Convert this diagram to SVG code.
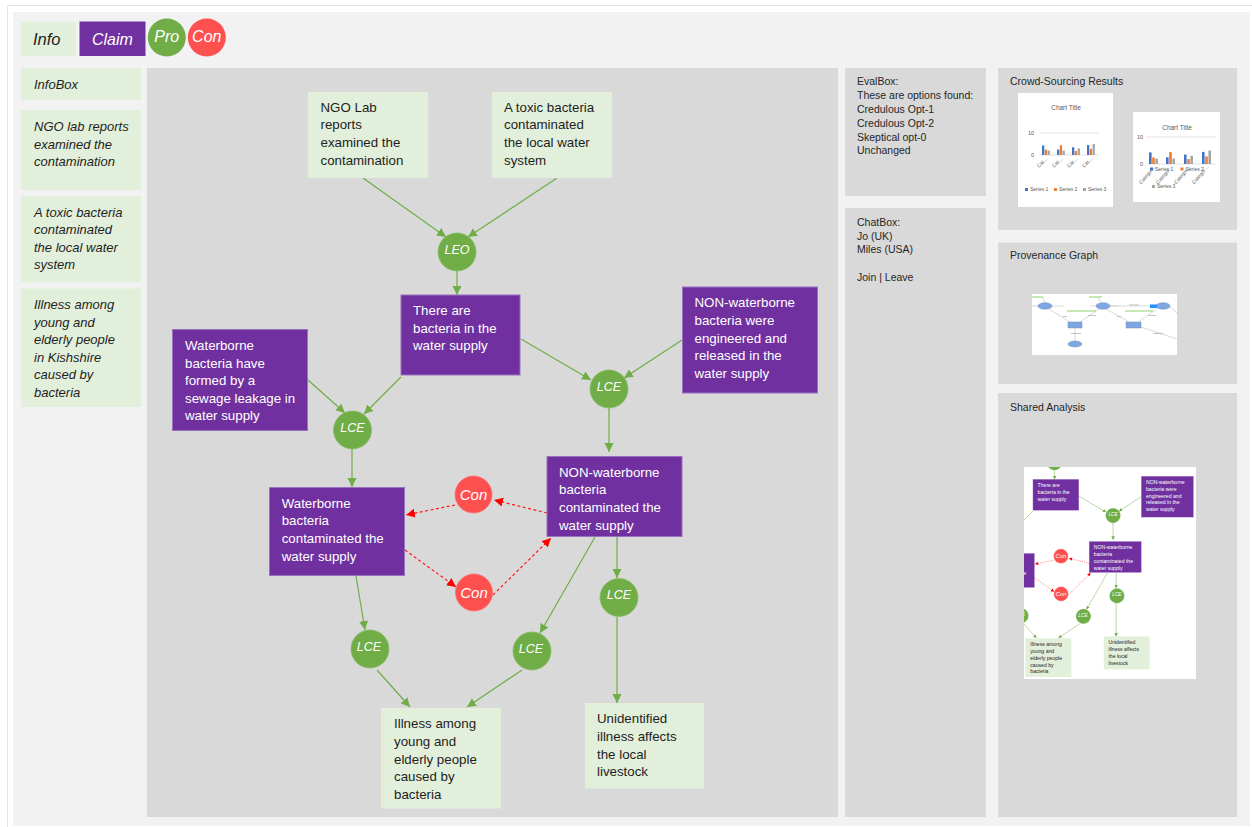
<svg xmlns="http://www.w3.org/2000/svg" xmlns:xlink="http://www.w3.org/1999/xlink" width="1252" height="827" viewBox="0 0 1252 827">
<defs>
<style>
.lg{fill:#e2efda}
.cl{fill:#7030a0;stroke:#9a70c0;stroke-width:1}
.pro{fill:#70ad47;stroke:#86bc62;stroke-width:0.8}
.con{fill:#ff5050;stroke:#ff7070;stroke-width:0.8}
.t{font-family:"Liberation Sans",Arial,sans-serif;font-size:13.3px}
.td{fill:#1e1e1e}
.tw{fill:#ffffff}
.ti{font-style:italic}
.cc{font-family:"Liberation Sans",Arial,sans-serif;font-style:italic;fill:#ffffff;text-anchor:middle}
.e{stroke:#70ad47;stroke-width:1.2;fill:none;marker-end:url(#ag)}
.er{stroke:#ff1a1a;stroke-width:1.2;stroke-dasharray:3 2.5;fill:none;marker-end:url(#ar)}
.panel{fill:#d9d9d9}
.pt{font-family:"Liberation Sans",Arial,sans-serif;font-size:10.5px;fill:#262626}
.ct{font-family:"Liberation Sans",Arial,sans-serif;fill:#595959}
.s1{fill:#4472c4}.s2{fill:#ed7d31}.s3{fill:#a5a5a5}
.grid{stroke:#d9d9d9;stroke-width:0.8}
.pe{stroke:#c8c8c8;stroke-width:0.7;fill:none}
.pn{fill:#7ea6e0;stroke:#6c8ebf;stroke-width:0.5}
.pl{fill:#8fd16a}
</style>
<marker id="ag" markerUnits="userSpaceOnUse" markerWidth="10" markerHeight="10" refX="9" refY="4.5" orient="auto"><path d="M0,0 L9,4.5 L0,9 z" fill="#70ad47"/></marker>
<marker id="ar" markerUnits="userSpaceOnUse" markerWidth="10" markerHeight="10" refX="9" refY="4.5" orient="auto"><path d="M0,0 L9,4.5 L0,9 z" fill="#ff0000"/></marker>
<clipPath id="saClip"><rect x="1024" y="467" width="172" height="212"/></clipPath>
</defs>

<!-- page -->
<rect x="0" y="0" width="1252" height="827" fill="#ffffff"/>
<path d="M7.5,827 V5.5 H1252" fill="none" stroke="#e4e4e4" stroke-width="1"/>
<rect x="13" y="12" width="1237" height="814" fill="#f2f2f2"/>

<!-- legend -->
<g id="legend">
  <g id="legend-info"><rect class="lg" x="21" y="21.5" width="55" height="34.5"/><text class="t td ti" x="33" y="44.5" style="font-size:16.5px">Info</text></g>
  <g id="legend-claim"><rect x="79.5" y="21.5" width="66" height="34.5" fill="#7030a0"/><text class="t tw ti" x="92" y="44.5" style="font-size:16px">Claim</text></g>
  <g id="legend-pro"><circle cx="166.8" cy="37.5" r="19" fill="#70ad47"/><text class="cc" x="166.8" y="42" style="font-size:16px">Pro</text></g>
  <g id="legend-con"><circle cx="206.8" cy="37.5" r="19" fill="#ff5050"/><text class="cc" x="206.8" y="42" style="font-size:16px">Con</text></g>
</g>

<!-- info sidebar -->
<g id="sidebar">
  <g id="sb-infobox"><rect class="lg" x="21" y="68" width="120" height="32"/><text class="t td ti" x="34" y="89" style="font-size:13px">InfoBox</text></g>
  <g id="sb-ngo"><rect class="lg" x="21" y="110" width="120" height="80"/>
    <text class="t td ti" style="font-size:13px"><tspan x="34" y="131">NGO lab reports</tspan><tspan x="34" y="148.5">examined the</tspan><tspan x="34" y="166">contamination</tspan></text></g>
  <g id="sb-toxic"><rect class="lg" x="21" y="196" width="120" height="86.5"/>
    <text class="t td ti" style="font-size:13px"><tspan x="34" y="216.5">A toxic bacteria</tspan><tspan x="34" y="234">contaminated</tspan><tspan x="34" y="251.5">the local water</tspan><tspan x="34" y="269">system</tspan></text></g>
  <g id="sb-illness"><rect class="lg" x="21" y="288.5" width="120" height="118.5"/>
    <text class="t td ti" style="font-size:13px"><tspan x="34" y="309">Illness among</tspan><tspan x="34" y="326.5">young and</tspan><tspan x="34" y="344">elderly people</tspan><tspan x="34" y="361.5">in Kishshire</tspan><tspan x="34" y="379">caused by</tspan><tspan x="34" y="396.5">bacteria</tspan></text></g>
</g>

<!-- argument canvas -->
<rect class="panel" x="147" y="68" width="691" height="749"/>

<g id="graph">
  <g id="connectors">
    <line class="e" x1="363" y1="178" x2="446" y2="237"/>
    <line class="e" x1="557" y1="178" x2="468" y2="237"/>
    <line class="e" x1="457" y1="271" x2="457" y2="295"/>
    <line class="e" x1="401" y1="377" x2="364" y2="414"/>
    <line class="e" x1="308" y1="380" x2="345" y2="413"/>
    <line class="e" x1="521" y1="339" x2="591" y2="380"/>
    <line class="e" x1="682" y1="340" x2="624" y2="378"/>
    <line class="e" x1="609" y1="408" x2="609" y2="452"/>
    <line class="e" x1="352" y1="449" x2="352" y2="487"/>
    <line class="e" x1="356" y1="576" x2="365" y2="630"/>
    <line class="e" x1="595" y1="537" x2="540" y2="633"/>
    <line class="e" x1="617" y1="537" x2="617" y2="578"/>
    <line class="e" x1="617" y1="617" x2="617" y2="703"/>
    <line class="e" x1="377" y1="670" x2="410" y2="707"/>
    <line class="e" x1="522" y1="670" x2="467" y2="707"/>
    <line class="er" x1="547" y1="513" x2="494" y2="500"/>
    <line class="er" x1="455" y1="505" x2="406" y2="515"/>
    <line class="er" x1="405" y1="550" x2="456" y2="587"/>
    <line class="er" x1="493" y1="595" x2="551" y2="538"/>
  </g>

  <g id="n-ngo-lab"><rect class="lg" x="308" y="92" width="120" height="86"/>
    <text class="t td"><tspan x="320.5" y="111.7">NGO Lab</tspan><tspan x="320.5" y="129.3">reports</tspan><tspan x="320.5" y="146.9">examined the</tspan><tspan x="320.5" y="164.5">contamination</tspan></text></g>
  <g id="n-toxic"><rect class="lg" x="492" y="92" width="120" height="86"/>
    <text class="t td"><tspan x="504" y="111.7">A toxic bacteria</tspan><tspan x="504" y="129.3">contaminated</tspan><tspan x="504" y="146.9">the local water</tspan><tspan x="504" y="164.5">system</tspan></text></g>
  <g id="n-leo"><circle class="pro" cx="457" cy="252" r="19"/><text class="cc" x="457" y="254" style="font-size:12.5px">LEO</text></g>
  <g id="n-there-are"><rect class="cl" x="401" y="295" width="119" height="80"/>
    <text class="t tw"><tspan x="413" y="315">There are</tspan><tspan x="413" y="332.6">bacteria in the</tspan><tspan x="413" y="350.2">water supply</tspan></text></g>
  <g id="n-engineered"><rect class="cl" x="682.5" y="287" width="135" height="106"/>
    <text class="t tw"><tspan x="694.5" y="307.3">NON-waterborne</tspan><tspan x="694.5" y="324.9">bacteria were</tspan><tspan x="694.5" y="342.5">engineered and</tspan><tspan x="694.5" y="360.1">released in the</tspan><tspan x="694.5" y="377.7">water supply</tspan></text></g>
  <g id="n-sewage"><rect class="cl" x="172.5" y="329.5" width="135" height="101"/>
    <text class="t tw"><tspan x="185" y="350">Waterborne</tspan><tspan x="185" y="367.6">bacteria have</tspan><tspan x="185" y="385.2">formed by a</tspan><tspan x="185" y="402.8">sewage leakage in</tspan><tspan x="185" y="420.4">water supply</tspan></text></g>
  <g id="n-lce-1"><circle class="pro" cx="352.5" cy="430" r="19"/><text class="cc" x="352.5" y="432" style="font-size:12.5px">LCE</text></g>
  <g id="n-lce-2"><circle class="pro" cx="609" cy="389" r="19"/><text class="cc" x="609" y="391" style="font-size:12.5px">LCE</text></g>
  <g id="n-non-contaminated"><rect class="cl" x="547" y="456.5" width="135" height="80"/>
    <text class="t tw"><tspan x="559" y="476.7">NON-waterborne</tspan><tspan x="559" y="494.3">bacteria</tspan><tspan x="559" y="511.9">contaminated the</tspan><tspan x="559" y="529.5">water supply</tspan></text></g>
  <g id="n-wb-contaminated"><rect class="cl" x="269.5" y="487.5" width="135" height="88"/>
    <text class="t tw"><tspan x="281.7" y="507.7">Waterborne</tspan><tspan x="281.7" y="525.3">bacteria</tspan><tspan x="281.7" y="542.9">contaminated the</tspan><tspan x="281.7" y="560.5">water supply</tspan></text></g>
  <g id="n-con-1"><circle class="con" cx="473.5" cy="494.5" r="18.5"/><text class="cc" x="473.5" y="499.5" style="font-size:15px">Con</text></g>
  <g id="n-con-2"><circle class="con" cx="474" cy="592.5" r="18.5"/><text class="cc" x="474" y="597.5" style="font-size:15px">Con</text></g>
  <g id="n-lce-3"><circle class="pro" cx="619" cy="597.5" r="19"/><text class="cc" x="619" y="599" style="font-size:12.5px">LCE</text></g>
  <g id="n-lce-4"><circle class="pro" cx="370" cy="649" r="19"/><text class="cc" x="369" y="650.5" style="font-size:12.5px">LCE</text></g>
  <g id="n-lce-5"><circle class="pro" cx="532" cy="651" r="19"/><text class="cc" x="531" y="652.5" style="font-size:12.5px">LCE</text></g>
  <g id="n-illness"><rect class="lg" x="381" y="708" width="120" height="100.5"/>
    <text class="t td"><tspan x="394" y="728.3">Illness among</tspan><tspan x="394" y="745.9">young and</tspan><tspan x="394" y="763.5">elderly people</tspan><tspan x="394" y="781.1">caused by</tspan><tspan x="394" y="798.7">bacteria</tspan></text></g>
  <g id="n-livestock"><rect class="lg" x="585" y="703" width="119" height="85.5"/>
    <text class="t td"><tspan x="597" y="723.3">Unidentified</tspan><tspan x="597" y="740.9">illness affects</tspan><tspan x="597" y="758.5">the local</tspan><tspan x="597" y="776.1">livestock</tspan></text></g>
</g>

<!-- evaluation and chat -->
<g id="evalbox"><rect class="panel" x="845" y="68" width="141" height="128"/>
  <text class="pt"><tspan x="857" y="85">EvalBox:</tspan><tspan x="857" y="99">These are options found:</tspan><tspan x="857" y="113">Credulous Opt-1</tspan><tspan x="857" y="127">Credulous Opt-2</tspan><tspan x="857" y="140.5">Skeptical opt-0</tspan><tspan x="857" y="154">Unchanged</tspan></text></g>
<g id="chatbox"><rect class="panel" x="845" y="208" width="141" height="609"/>
  <text class="pt"><tspan x="857" y="225.5">ChatBox:</tspan><tspan x="857" y="239.5">Jo (UK)</tspan><tspan x="857" y="253">Miles (USA)</tspan><tspan x="857" y="280.5">Join | Leave</tspan></text></g>

<!-- crowd-sourcing results -->
<g id="crowd">
  <rect class="panel" x="998" y="68" width="239" height="162"/>
  <text class="pt" x="1010" y="85">Crowd-Sourcing Results</text>
  <g id="chart-1">
    <rect x="1018" y="93" width="95" height="114" fill="#ffffff"/>
    <text class="ct" x="1066" y="110" text-anchor="middle" style="font-size:6.5px">Chart Title</text>
    <line class="grid" x1="1040" y1="133" x2="1099" y2="133"/>
    <line class="grid" x1="1040" y1="155" x2="1099" y2="155"/>
    <text class="ct" x="1034" y="135" text-anchor="end" style="font-size:5.5px">10</text>
    <text class="ct" x="1034" y="157" text-anchor="end" style="font-size:5.5px">0</text>
    <rect class="s1" x="1042" y="145.5" width="2.3" height="9.5"/><rect class="s2" x="1044.8" y="149.7" width="2.3" height="5.3"/><rect class="s3" x="1047.6" y="150.6" width="2.3" height="4.4"/>
    <rect class="s1" x="1057" y="149.5" width="2.3" height="5.5"/><rect class="s2" x="1059.8" y="145.3" width="2.3" height="9.7"/><rect class="s3" x="1062.6" y="150.6" width="2.3" height="4.4"/>
    <rect class="s1" x="1072" y="147.3" width="2.3" height="7.7"/><rect class="s2" x="1074.8" y="151" width="2.3" height="4"/><rect class="s3" x="1077.6" y="148.4" width="2.3" height="6.6"/>
    <rect class="s1" x="1087" y="145.1" width="2.3" height="9.9"/><rect class="s2" x="1089.8" y="148.8" width="2.3" height="6.2"/><rect class="s3" x="1092.6" y="144" width="2.3" height="11"/>
    <g class="ct" style="font-size:5px" text-anchor="end">
      <text transform="translate(1048,159) rotate(-45)">Cat…</text>
      <text transform="translate(1063,159) rotate(-45)">Cat…</text>
      <text transform="translate(1078,159) rotate(-45)">Cat…</text>
      <text transform="translate(1093,159) rotate(-45)">Cat…</text>
    </g>
    <rect class="s1" x="1025" y="188" width="3" height="3"/><text class="ct" x="1030" y="191" style="font-size:5px">Series 1</text>
    <rect class="s2" x="1054" y="188" width="3" height="3"/><text class="ct" x="1059" y="191" style="font-size:5px">Series 2</text>
    <rect class="s3" x="1083" y="188" width="3" height="3"/><text class="ct" x="1088" y="191" style="font-size:5px">Series 3</text>
  </g>
  <g id="chart-2">
    <rect x="1133" y="112" width="87" height="90" fill="#ffffff"/>
    <text class="ct" x="1177" y="130" text-anchor="middle" style="font-size:6.5px">Chart Title</text>
    <line class="grid" x1="1147" y1="137" x2="1216" y2="137"/>
    <line class="grid" x1="1147" y1="164" x2="1216" y2="164"/>
    <text class="ct" x="1143" y="139" text-anchor="end" style="font-size:5.5px">10</text>
    <text class="ct" x="1143" y="166" text-anchor="end" style="font-size:5.5px">0</text>
    <rect class="s1" x="1149" y="152.4" width="2.6" height="11.6"/><rect class="s2" x="1152.2" y="157.5" width="2.6" height="6.5"/><rect class="s3" x="1155.4" y="158.6" width="2.6" height="5.4"/>
    <rect class="s1" x="1166" y="157.3" width="2.6" height="6.7"/><rect class="s2" x="1169.2" y="152.1" width="2.6" height="11.9"/><rect class="s3" x="1172.4" y="158.6" width="2.6" height="5.4"/>
    <rect class="s1" x="1184" y="154.6" width="2.6" height="9.4"/><rect class="s2" x="1187.2" y="159.1" width="2.6" height="4.9"/><rect class="s3" x="1190.4" y="155.9" width="2.6" height="8.1"/>
    <rect class="s1" x="1202" y="151.9" width="2.6" height="12.1"/><rect class="s2" x="1205.2" y="156.4" width="2.6" height="7.6"/><rect class="s3" x="1208.4" y="150.5" width="2.6" height="13.5"/>
    <g class="ct" style="font-size:5px" text-anchor="end">
      <text transform="translate(1156,167) rotate(-50)">Categor…</text>
      <text transform="translate(1173,167) rotate(-50)">Categor…</text>
      <text transform="translate(1191,167) rotate(-50)">Categor…</text>
      <text transform="translate(1209,167) rotate(-50)">Categor…</text>
    </g>
    <rect class="s1" x="1150" y="167.5" width="3" height="3"/><text class="ct" x="1155" y="170.5" style="font-size:5px">Series 1</text>
    <rect class="s2" x="1180.5" y="167.5" width="3" height="3"/><text class="ct" x="1185.5" y="170.5" style="font-size:5px">Series 2</text>
    <rect class="s3" x="1152" y="185" width="3" height="3"/><text class="ct" x="1157" y="188" style="font-size:5px">Series 3</text>
  </g>
</g>

<!-- provenance graph -->
<g id="provenance">
  <rect class="panel" x="998" y="242.5" width="239" height="141.5"/>
  <text class="pt" x="1010" y="259">Provenance Graph</text>
  <rect x="1032" y="294" width="145" height="61" fill="#ffffff"/>
  <g class="pe">
    <line x1="1032" y1="306" x2="1064" y2="306"/>
    <line x1="1090" y1="306" x2="1118" y2="306"/>
    <line x1="1110" y1="306" x2="1150" y2="306"/>
    <line x1="1049" y1="309" x2="1070" y2="322"/>
    <line x1="1099" y1="309" x2="1080" y2="322"/>
    <line x1="1106" y1="309" x2="1129" y2="322"/>
    <line x1="1157" y1="309" x2="1138" y2="322"/>
    <line x1="1075" y1="328" x2="1075" y2="341"/>
    <line x1="1141" y1="327" x2="1177" y2="339"/>
    <line x1="1170" y1="307" x2="1177" y2="313"/>
    <line x1="1043" y1="297" x2="1045" y2="303"/>
    <line x1="1098" y1="297" x2="1101" y2="303"/>
  </g>
  <g fill="#b4b4b4">
    <rect x="1063" y="316" width="4" height="0.8"/><rect x="1088" y="315" width="8" height="0.8"/>
    <rect x="1117" y="316" width="4" height="0.8"/><rect x="1148" y="315" width="8" height="0.8"/>
    <rect x="1071" y="333" width="10" height="0.8"/><rect x="1129" y="304.5" width="10" height="0.8"/>
    <rect x="1153" y="333" width="10" height="0.8"/>
  </g>
  <g class="pl">
    <rect x="1032" y="296.5" width="11" height="1"/><rect x="1067" y="310.5" width="29" height="1"/>
    <rect x="1089" y="296.5" width="13" height="1"/><rect x="1125" y="310.5" width="28" height="1"/>
  </g>
  <ellipse class="pn" cx="1045" cy="306" rx="7" ry="3.3"/>
  <ellipse class="pn" cx="1103" cy="306" rx="7" ry="3.3"/>
  <ellipse class="pn" cx="1163" cy="306" rx="7" ry="3.3"/>
  <rect x="1150" y="304.5" width="7" height="3.5" fill="#1e90ff"/>
  <rect class="pn" x="1068" y="322" width="14" height="6"/>
  <rect class="pn" x="1126" y="322" width="15" height="6"/>
  <ellipse class="pn" cx="1075" cy="344" rx="7" ry="3"/>
</g>

<!-- shared analysis -->
<g id="shared">
  <rect class="panel" x="998" y="393" width="239" height="424"/>
  <text class="pt" x="1010" y="411">Shared Analysis</text>
  <g id="shared-thumb" clip-path="url(#saClip)">
    <rect x="1024" y="467" width="172" height="212" fill="#ffffff"/>
    <use href="#graph" xlink:href="#graph" transform="translate(878.6,365.8) scale(0.385)"/>
  </g>
</g>
</svg>
